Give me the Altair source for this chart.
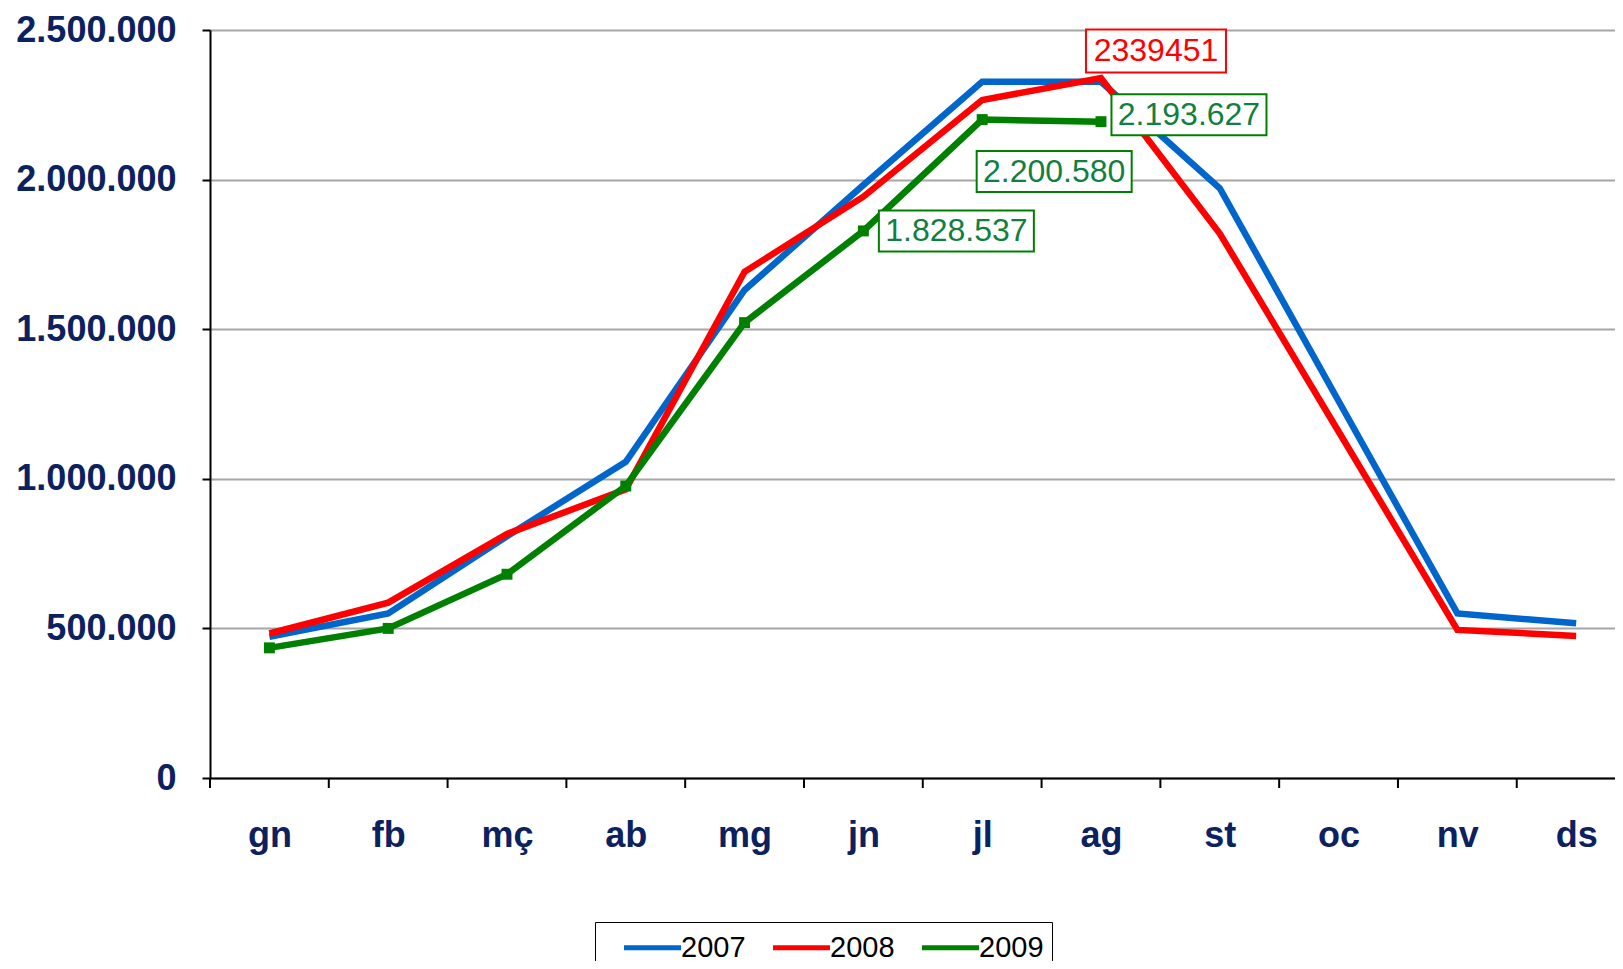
import json
import altair as alt
import pandas as pd

# ---- data ----
months = ["gn", "fb", "mç", "ab", "mg", "jn", "jl", "ag", "st", "oc", "nv", "ds"]
v2007 = [472000, 550000, 808000, 1057000, 1631000, 1982000, 2327000, 2327000, 1971000, 1260000, 550000, 517000]
v2008 = [483000, 586000, 816000, 965000, 1692000, 1943000, 2266000, 2339451, 1820000, 1158000, 495000, 475000]
v2009 = [435000, 500000, 681000, 976000, 1522000, 1828537, 2200580, 2193627]
series = ["2007", "2008", "2009"]
colors = ["#0066CC", "#FF0000", "#008000"]
y_ticks = [0, 500000, 1000000, 1500000, 2000000, 2500000]

ann_month = ["ag", "ag", "jl", "jn"]
ann_series = ["2008", "2009", "2009", "2009"]
ann_text = ["2339451", "2.193.627", "2.200.580", "1.828.537"]

# ---- tables ----
values = {"2007": v2007, "2008": v2008, "2009": v2009}
rows = []
for s in series:
    for i, v in enumerate(values[s]):
        rows.append({"idx": i, "month": months[i], "series": s, "value": v})
df = pd.DataFrame(rows)
df09 = df[df.series == "2009"]

bounds = pd.DataFrame({"b": [i - 0.5 for i in range(len(months))]})

W, H = 1405, 748
NAVY = "#0B2160"

xscale = alt.Scale(domain=[-0.5, 11.327], nice=False, zero=False)
yscale = alt.Scale(domain=[0, 2500000], nice=False, zero=True)

x_enc = alt.X("idx:Q", scale=xscale, axis=alt.Axis(
    values=list(range(len(months))),
    labelExpr=json.dumps(months) + "[datum.value]",
    ticks=False, grid=False, title=None,
    labelFontSize=36, labelFontWeight="bold", labelFont="Liberation Sans",
    labelColor=NAVY, labelPadding=40, labelFlush=False,
    domainColor="black", domainWidth=2))
y_enc = alt.Y("value:Q", scale=yscale, axis=alt.Axis(
    values=y_ticks,
    labelExpr="replace(replace(format(datum.value, ','), ',', '.'), ',', '.')",
    title=None, labelFontSize=36, labelFontWeight="bold", labelFont="Liberation Sans",
    labelColor=NAVY, labelPadding=26, tickSize=8, tickColor="black", tickWidth=2,
    domainColor="black", domainWidth=2, gridColor="#A6A6A6", gridWidth=2))

# legend symbols: a long stroke
line_path = "M-1.9,0H1.9"
legend = alt.Legend(
    title=None, orient="none", legendX=385, legendY=892,
    direction="horizontal", strokeColor="black", fillColor="white", padding=8,
    symbolType=line_path, symbolStrokeWidth=5, symbolSize=900, symbolOffset=32,
    labelFontSize=29, labelFont="Liberation Sans", labelColor="black",
    columnPadding=6, labelOffset=11,
)

lines = alt.Chart(df).mark_line(strokeWidth=6.5, strokeJoin="miter").encode(
    x=x_enc, y=y_enc,
    color=alt.Color("series:N", scale=alt.Scale(domain=series, range=colors), legend=legend),
    order=alt.Order("idx:Q"),
)

xticks = alt.Chart(bounds).mark_rule(color="black", strokeWidth=2).encode(
    x=alt.X("b:Q", scale=xscale), y=alt.value(H), y2=alt.value(H + 10))

markers = alt.Chart(df09).mark_point(shape="square", filled=True, size=120,
                                     color="#008000", opacity=1).encode(
    x=alt.X("idx:Q", scale=xscale), y=alt.Y("value:Q", scale=yscale))

# annotation styles (offsets / box sizes)
ann_style = [
    {"dx": 55, "dy": -27, "w": 140, "h": 43, "stroke": "#FF0000", "text": "#FF0000"},
    {"dx": 88, "dy": -7, "w": 155, "h": 41, "stroke": "#008000", "text": "#108040"},
    {"dx": 72, "dy": 52, "w": 155, "h": 41, "stroke": "#008000", "text": "#108040"},
    {"dx": 93, "dy": 0, "w": 155, "h": 41, "stroke": "#008000", "text": "#108040"},
]
ann_layers = []
for m, s, t, st in zip(ann_month, ann_series, ann_text, ann_style):
    i = months.index(m)
    d = pd.DataFrame({"idx": [i], "value": [values[s][i]], "label": [t]})
    r = st["h"] / st["w"]
    path = f"M-1,-{r:.4f}H1V{r:.4f}H-1Z"
    box = alt.Chart(d).mark_point(shape=path, size=st["w"] ** 2, filled=True,
                                  fill="white", stroke=st["stroke"], strokeWidth=2,
                                  opacity=1, fillOpacity=1, strokeOpacity=1,
                                  xOffset=st["dx"], yOffset=st["dy"]).encode(
        x=alt.X("idx:Q", scale=xscale), y=alt.Y("value:Q", scale=yscale))
    txt = alt.Chart(d).mark_text(dx=st["dx"], dy=st["dy"], fontSize=32,
                                 font="Liberation Sans", color=st["text"],
                                 align="center", baseline="middle").encode(
        x=alt.X("idx:Q", scale=xscale), y=alt.Y("value:Q", scale=yscale),
        text="label:N")
    ann_layers += [box, txt]

chart = alt.layer(lines, xticks, markers, *ann_layers).properties(
    width=W, height=H,
    autosize=alt.AutoSizeParams(type="none"),
    padding={"left": 202, "top": 22, "right": 0, "bottom": 183},
    background="white",
).configure_view(stroke=None)

chart.save("out.html", embed_options={"renderer": "svg", "actions": False})
